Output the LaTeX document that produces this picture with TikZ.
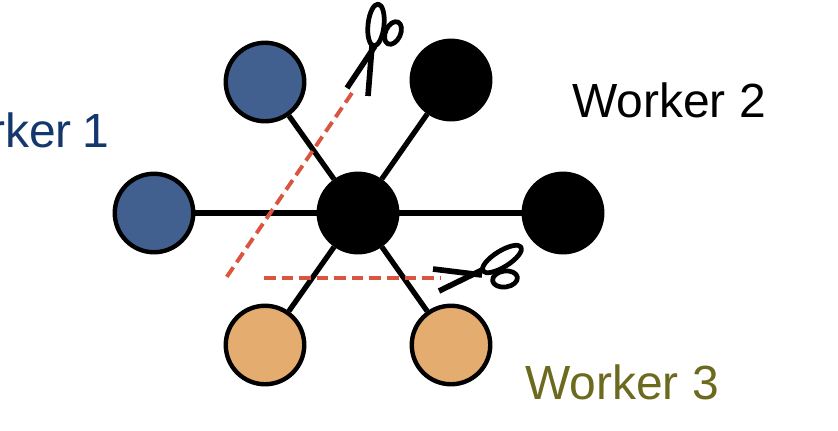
\documentclass[tikz,border=0pt]{standalone}
\usepackage{fontspec}
\setmainfont{Liberation Sans}
\definecolor{workerblue}{HTML}{41608F}
\definecolor{workerorange}{HTML}{E5AC70}
\definecolor{labelblue}{HTML}{14386B}
\definecolor{labelolive}{HTML}{6B6A1E}
\definecolor{cutred}{HTML}{D9553F}
\begin{document}
\begin{tikzpicture}[x=0.02cm,y=-0.02cm]
    \tikzstyle{worker}=[circle,draw=black,line width=2.5pt,inner sep=0pt,minimum size=1.57cm]
    \tikzstyle{link}=[draw,line width=3pt]
    \tikzstyle{cut}=[draw=cutred,line width=2.2pt,dash pattern=on 6.6pt off 3.4pt]
    \tikzstyle{scissor}=[draw,line width=2.7pt,line join=round]
    \tikzstyle{label}=[font=\fontsize{27.3}{30}\selectfont,inner sep=0pt]
      \useasboundingbox (0,0) rectangle (838,430);

      \node (C) at (358, 213) [worker,fill=black] {};
      \node (B1) at (265, 82)  [worker,fill=workerblue] {};
      \node (B2) at (154, 213) [worker,fill=workerblue] {};
      \node (K1) at (451, 80)  [worker,fill=black] {};
      \node (K2) at (563, 213) [worker,fill=black] {};
      \node (O1) at (265, 345) [worker,fill=workerorange] {};
      \node (O2) at (451, 345) [worker,fill=workerorange] {};

      \path[link] (C) edge (B1);
      \path[link] (C) edge (B2);
      \path[link] (C) edge (K1);
      \path[link] (C) edge (K2);
      \path[link] (C) edge (O1);
      \path[link] (C) edge (O2);

      \coordinate (cut1a) at (352, 93);
      \coordinate (cut1b) at (226, 278);
      \coordinate (cut2a) at (264, 278);
      \coordinate (cut2b) at (440, 278);
      \path[cut] (cut1a) -- (cut1b);
      \path[cut] (cut2a) -- (cut2b);

      % top scissors
      \draw[scissor,line width=3.2pt] (347, 88) -- (375, 46);
      \draw[scissor,line width=3.2pt] (368, 96) -- (372, 46);
      \draw[scissor,rotate around={-6:(376, 25)}] (376, 25) ellipse (8 and 21);
      \draw[scissor,rotate around={-25:(393, 33)}] (393, 33) ellipse (7.5 and 12);

      % bottom scissors
      \draw[scissor,line width=3.2pt] (433, 269) -- (482, 275);
      \draw[scissor,line width=3.2pt] (439, 291) -- (482, 270);
      \draw[scissor,rotate around={32:(502, 259)}] (502, 259) ellipse (22.5 and 8);
      \draw[scissor,rotate around={8:(505, 279)}] (505, 279) ellipse (12.5 and 8);

      \node (W1) at (110, 130) [label,anchor=east,text=labelblue] {Worker\hspace{-0.04cm} 1};
      \node (W2) at (669, 100) [label,text=black] {Worker 2};
      \node (W3) at (622, 382) [label,text=labelolive] {Worker 3};
  \end{tikzpicture}
\end{document}
